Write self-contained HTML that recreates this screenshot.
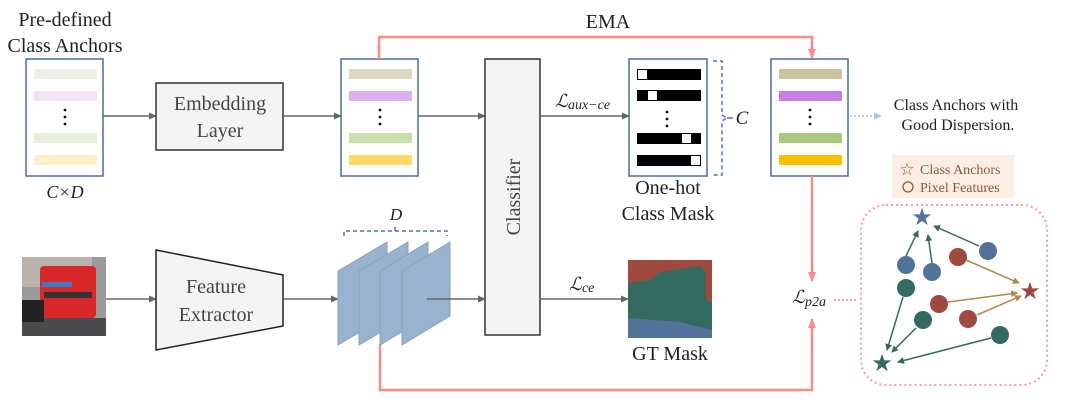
<!DOCTYPE html>
<html><head><meta charset="utf-8"><style>
body{margin:0;background:#fff}
text{font-family:"Liberation Serif","DejaVu Serif",serif}
</style></head><body>
<svg width="1080" height="408" viewBox="0 0 1080 408" xmlns="http://www.w3.org/2000/svg" font-family="Liberation Serif, DejaVu Serif, serif">
<defs>
<marker id="ag" markerWidth="8" markerHeight="8" refX="7" refY="4" orient="auto" markerUnits="userSpaceOnUse"><path d="M0,0.5 L8,4 L0,7.5z" fill="#666"/></marker>
<marker id="ar" markerWidth="10" markerHeight="10" refX="9" refY="5" orient="auto" markerUnits="userSpaceOnUse"><path d="M0,1 L10,5 L0,9z" fill="#f88"/></marker>
<marker id="ab" markerWidth="8" markerHeight="8" refX="7" refY="4" orient="auto" markerUnits="userSpaceOnUse"><path d="M0,0.5 L8,4 L0,7.5z" fill="#aac4e8"/></marker>
<marker id="aG" markerWidth="7" markerHeight="7" refX="6" refY="3.5" orient="auto" markerUnits="userSpaceOnUse"><path d="M0,0 L7,3.5 L0,7z" fill="#336b60"/></marker>
<marker id="aR" markerWidth="7" markerHeight="7" refX="6" refY="3.5" orient="auto" markerUnits="userSpaceOnUse"><path d="M0,0 L7,3.5 L0,7z" fill="#b8864a"/></marker>
</defs>
<text x="65" y="26" font-size="20" text-anchor="middle" fill="#222">Pre-defined</text>
<text x="65" y="52" font-size="20" text-anchor="middle" fill="#222">Class Anchors</text>
<text x="65" y="198" font-size="18" text-anchor="middle" font-style="italic" fill="#222">C×D</text>
<rect x="26" y="59" width="77" height="117" fill="#fff" stroke="#4a6aa5" stroke-width="1.5"/>
<rect x="34" y="69" width="63" height="10" fill="#f0f0e8"/><rect x="34" y="91" width="63" height="10" fill="#f3e3f7"/>
<rect x="34" y="133" width="63" height="10" fill="#e6efdc"/><rect x="34" y="155" width="63" height="10" fill="#fdf0c8"/>
<g fill="#111"><circle cx="65" cy="110" r="1.4"/><circle cx="65" cy="117" r="1.4"/><circle cx="65" cy="124" r="1.4"/></g>
<line x1="103" y1="116" x2="156" y2="116" stroke="#666" stroke-width="1.5" marker-end="url(#ag)"/>
<rect x="156" y="83" width="127" height="67" fill="#f4f4f4" stroke="#333" stroke-width="1.5"/>
<text x="220" y="110" font-size="20" text-anchor="middle" fill="#444">Embedding</text>
<text x="220" y="137" font-size="20" text-anchor="middle" fill="#444">Layer</text>
<line x1="283" y1="116" x2="341" y2="116" stroke="#666" stroke-width="1.5" marker-end="url(#ag)"/>
<rect x="341" y="59" width="77" height="117" fill="#fff" stroke="#4a6aa5" stroke-width="1.5"/>
<rect x="349" y="69" width="63" height="10" fill="#ddd8c0"/><rect x="349" y="91" width="63" height="10" fill="#dcb1ef"/>
<rect x="349" y="133" width="63" height="10" fill="#cadfae"/><rect x="349" y="155" width="63" height="10" fill="#fed966"/>
<g fill="#111"><circle cx="380" cy="110" r="1.4"/><circle cx="380" cy="117" r="1.4"/><circle cx="380" cy="124" r="1.4"/></g>
<line x1="418" y1="116" x2="485" y2="116" stroke="#666" stroke-width="1.5" marker-end="url(#ag)"/>
<polyline points="379,59 379,37 812,37 812,58" fill="none" stroke="#f88" stroke-width="2.5" marker-end="url(#ar)"/>
<text x="608" y="28" font-size="20" text-anchor="middle" fill="#222">EMA</text>
<rect x="485" y="59" width="55" height="276" fill="#f4f4f4" stroke="#333" stroke-width="1.5"/>
<text transform="translate(520,197) rotate(-90)" font-size="20" text-anchor="middle" fill="#444">Classifier</text>
<line x1="540" y1="116" x2="629" y2="116" stroke="#666" stroke-width="1.5" marker-end="url(#ag)"/>
<text x="555" y="107" font-size="18" font-style="italic" fill="#222">ℒ<tspan font-size="14" dy="2">aux−ce</tspan></text>
<rect x="629" y="59" width="78" height="117" fill="#fff" stroke="#4a6aa5" stroke-width="1.5"/>
<rect x="637" y="69" width="64" height="11" fill="#000"/><rect x="638" y="70" width="9" height="9" fill="#fff"/>
<rect x="637" y="90" width="64" height="11" fill="#000"/><rect x="648" y="91" width="9" height="9" fill="#fff"/>
<rect x="637" y="133" width="64" height="11" fill="#000"/><rect x="682" y="134" width="9" height="9" fill="#fff"/>
<rect x="637" y="155" width="64" height="11" fill="#000"/><rect x="691" y="156" width="9" height="9" fill="#fff"/>
<g fill="#111"><circle cx="667" cy="112" r="1.4"/><circle cx="667" cy="119" r="1.4"/><circle cx="667" cy="126" r="1.4"/></g>
<path d="M713,61 L722,61 L722,115 L727,118 L722,121 L722,175 L713,175" fill="none" stroke="#4a70c8" stroke-width="1.5" stroke-dasharray="4,3"/>
<line x1="727" y1="118" x2="733" y2="118" stroke="#4a70c8" stroke-width="1.5"/>
<text x="742" y="124" font-size="19" font-style="italic" text-anchor="middle" fill="#222">C</text>
<text x="668" y="194" font-size="20" text-anchor="middle" fill="#222">One-hot</text>
<text x="668" y="220" font-size="20" text-anchor="middle" fill="#222">Class Mask</text>
<rect x="771" y="59" width="77" height="117" fill="#fff" stroke="#4a6aa5" stroke-width="1.5"/>
<rect x="779" y="69" width="63" height="10" fill="#cbc39d"/><rect x="779" y="91" width="63" height="10" fill="#c67ee6"/>
<rect x="779" y="133" width="63" height="10" fill="#a8c97d"/><rect x="779" y="155" width="63" height="10" fill="#fdc000"/>
<g fill="#111"><circle cx="810" cy="110" r="1.4"/><circle cx="810" cy="117" r="1.4"/><circle cx="810" cy="124" r="1.4"/></g>
<line x1="850" y1="116" x2="881" y2="116" stroke="#aac4e8" stroke-width="1.5" stroke-dasharray="2,2" marker-end="url(#ab)"/>
<text x="956" y="110" font-size="16" text-anchor="middle" fill="#222">Class Anchors with</text>
<text x="958" y="130" font-size="16" text-anchor="middle" fill="#222">Good Dispersion.</text>
<rect x="892" y="155" width="122" height="43" fill="#fbeee4"/>
<text x="907" y="175" font-size="17" text-anchor="middle" fill="#a0522d" font-family="DejaVu Sans, sans-serif">☆</text>
<text x="920" y="174" font-size="14" fill="#8b5a3c">Class Anchors</text>
<circle cx="908" cy="187" r="5" fill="none" stroke="#8b5a3c" stroke-width="1.3"/>
<text x="920" y="192" font-size="14" fill="#8b5a3c">Pixel Features</text>
<line x1="812" y1="176" x2="812" y2="281" stroke="#f88" stroke-width="2.5" marker-end="url(#ar)"/>
<polyline points="380,344 380,390 812,390 812,319" fill="none" stroke="#f88" stroke-width="2.5" marker-end="url(#ar)"/>
<text x="792" y="303" font-size="18" font-style="italic" fill="#222">ℒ<tspan font-size="14" dy="3">p2a</tspan></text>
<line x1="834" y1="300" x2="858" y2="300" stroke="#f9a" stroke-width="2" stroke-dasharray="2,2"/>
<rect x="861" y="205" width="186" height="180" rx="25" fill="none" stroke="#f99" stroke-width="2" stroke-dasharray="2,3"/>
<g stroke-width="1.5" fill="none">
<line x1="906" y1="256" x2="918" y2="231" stroke="#336b60" marker-end="url(#aG)"/>
<line x1="932" y1="263" x2="928" y2="235" stroke="#336b60" marker-end="url(#aG)"/>
<line x1="979" y1="246" x2="934" y2="226" stroke="#336b60" marker-end="url(#aG)"/>
<line x1="966" y1="260" x2="1019" y2="283" stroke="#b8864a" marker-end="url(#aR)"/>
<line x1="948" y1="302" x2="1017" y2="293" stroke="#b8864a" marker-end="url(#aR)"/>
<line x1="977" y1="315" x2="1021" y2="296" stroke="#b8864a" marker-end="url(#aR)"/>
<line x1="903" y1="297" x2="887" y2="350" stroke="#336b60" marker-end="url(#aG)"/>
<line x1="916" y1="328" x2="892" y2="352" stroke="#336b60" marker-end="url(#aG)"/>
<line x1="991" y1="338" x2="898" y2="362" stroke="#336b60" marker-end="url(#aG)"/>
</g>
<g fill="#52729a"><circle cx="906" cy="265" r="9"/><circle cx="932" cy="272" r="9"/><circle cx="988" cy="251" r="9"/></g>
<g fill="#9e4a3e"><circle cx="958" cy="257" r="9"/><circle cx="939" cy="304" r="9"/><circle cx="968" cy="319" r="9"/></g>
<g fill="#336b60"><circle cx="906" cy="288" r="9"/><circle cx="923" cy="320" r="9"/><circle cx="1000" cy="335" r="9"/></g>
<text x="922" y="225" font-size="24" text-anchor="middle" fill="#52729a" font-family="DejaVu Sans, sans-serif">★</text>
<text x="1030" y="299" font-size="24" text-anchor="middle" fill="#9e4a3e" font-family="DejaVu Sans, sans-serif">★</text>
<text x="882" y="371" font-size="24" text-anchor="middle" fill="#336b60" font-family="DejaVu Sans, sans-serif">★</text>
<rect x="22" y="257" width="84" height="79" fill="#9a9a98"/>
<rect x="22" y="257" width="70" height="30" fill="#b8b4ac"/>
<rect x="22" y="318" width="84" height="18" fill="#4a4a4c"/>
<rect x="40" y="266" width="56" height="52" rx="4" fill="#d8282a"/>
<rect x="42" y="282" width="30" height="5" fill="#3c7ac8"/>
<rect x="44" y="292" width="48" height="6" fill="#333"/>
<rect x="22" y="300" width="22" height="22" fill="#222"/>
<line x1="106" y1="299" x2="156" y2="299" stroke="#666" stroke-width="1.5" marker-end="url(#ag)"/>
<polygon points="156,250 283,275 283,326 156,350" fill="#f4f4f4" stroke="#222" stroke-width="1.5"/>
<text x="216" y="293" font-size="20" text-anchor="middle" fill="#444">Feature</text>
<text x="216" y="321" font-size="20" text-anchor="middle" fill="#444">Extractor</text>
<line x1="283" y1="299" x2="338" y2="299" stroke="#666" stroke-width="1.5" marker-end="url(#ag)"/>
<g fill="#97b3d0" stroke="#8aa2bb" stroke-width="1">
<polygon points="338,271 387,242 387,316 338,345"/>
<polygon points="359,271 408,242 408,316 359,345"/>
<polygon points="380,271 428,242 428,316 380,345"/>
<polygon points="402,271 450,242 450,316 402,345"/>
</g>
<path d="M344,236 L344,231 L395,231 L395,226 M395,231 L447,231 L447,236" fill="none" stroke="#4a70c8" stroke-width="1.5" stroke-dasharray="4,3"/>
<text x="396" y="220" font-size="17" font-style="italic" text-anchor="middle" fill="#222">D</text>
<line x1="427" y1="299" x2="485" y2="299" stroke="#666" stroke-width="1.5" marker-end="url(#ag)"/>
<line x1="540" y1="299" x2="628" y2="299" stroke="#666" stroke-width="1.5" marker-end="url(#ag)"/>
<text x="569" y="290" font-size="18" font-style="italic" fill="#222">ℒ<tspan font-size="14" dy="2">ce</tspan></text>
<rect x="628" y="260" width="84" height="78" fill="#9e4a3e"/>
<path d="M628,283 L650,280 L660,272 L700,266 L705,270 L706,300 L712,302 L712,330 L628,322 Z" fill="#336b60"/>
<path d="M628,318 L680,322 L712,330 L712,338 L628,338 Z" fill="#52729a"/>
<text x="670" y="360" font-size="20" text-anchor="middle" fill="#222">GT Mask</text>
</svg>
</body></html>
